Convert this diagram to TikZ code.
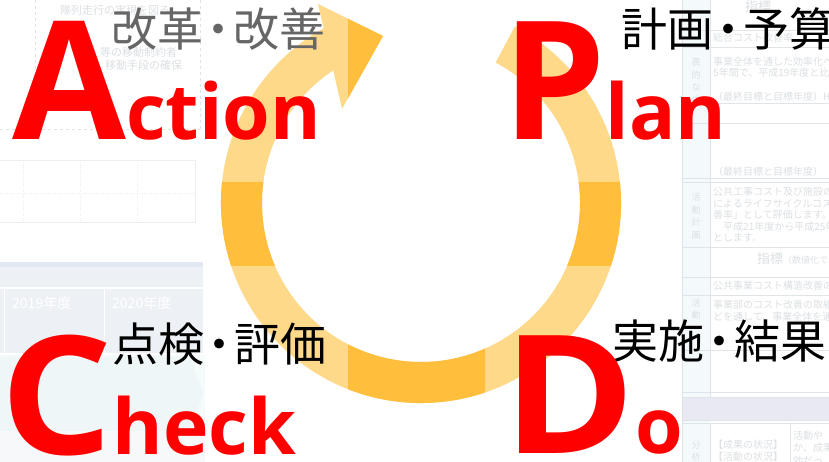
\documentclass[tikz,border=0pt]{standalone}
\usepackage{fontspec}
\usetikzlibrary{positioning}
\newfontfamily\jpfont{Noto Sans CJK JP}
\newfontfamily\pdcafont{Open Sans}
\definecolor{ringlight}{HTML}{FFD98A}
\definecolor{ringdark}{HTML}{FFBE3C}
\definecolor{pdcared}{HTML}{FF0000}
\definecolor{labelgray}{HTML}{666666}
\definecolor{bgline}{HTML}{DFE4E9}
\definecolor{bgtext}{HTML}{DCE0E3}
\definecolor{bgblue}{HTML}{EDF1F6}
\definecolor{bgband}{HTML}{E1E8F2}
\definecolor{bgcyan}{HTML}{EEF6F8}
\definecolor{bgcol}{HTML}{F4FAFC}
\definecolor{bglav}{HTML}{E9E9F4}
\newcommand{\ringpath}{(62:200) arc[start angle=62,end angle=-240.9,radius=200]
  -- (-103,199) -- (-38,167) -- (-79,94) -- (-236.5:159)
  arc[start angle=-236.5,end angle=62,radius=159] -- cycle}
\newcommand{\pdcabig}[1]{{\fontsize{165}{165}\selectfont #1}}
\newcommand{\pdcasmall}[1]{{\fontsize{77}{77}\selectfont #1}}
\newcommand{\jpdot}{\kern-8pt・\kern-8pt}

\begin{document}
\begin{tikzpicture}[x=1pt,y=1pt]
  \tikzstyle{jplabel}=[font=\jpfont\fontsize{46}{46}\selectfont,anchor=base west,inner sep=0pt]
  \tikzstyle{pdcaword}=[font=\pdcafont\bfseries,text=pdcared,anchor=base west,inner sep=0pt]
  \tikzstyle{bgnote}=[font=\jpfont\fontsize{10}{12.5}\selectfont,text=bgtext,anchor=west,inner sep=0pt]
  \tikzstyle{bgside}=[font=\jpfont\fontsize{9}{12.5}\selectfont,text=bgtext,align=center,inner sep=0pt]
  \useasboundingbox[fill=white] (0,0) rectangle (829,462);

  \draw[bgline,dashed,line width=1pt] (35,462) -- (35,332) (200,462) -- (200,332) (0,332) -- (200,332);
  \draw[bgline!60] (-1,302) rectangle (195,240);
  \draw[bgline!60,dotted] (23,302) -- (23,240) (80,302) -- (80,240) (137,302) -- (137,240) (0,269) -- (195,269);
  \fill[bgband] (0,200) rectangle (203,195);
  \fill[bgblue] (0,195) rectangle (203,175);
  \fill[bgblue] (0,173) rectangle (203,109);
  \draw[white,line width=1pt] (4,173) -- (4,109) (104,173) -- (104,109);
  \fill[bgcyan!60] (0,107) rectangle (205,29);
  \fill[bgcyan] (0,105) -- (190,105) -- (203,68) -- (190,31) -- (0,31) -- cycle;
  \fill[bgblue!50] (0,29) rectangle (205,0);
  \node[bgnote,text=white,font=\jpfont\fontsize{14}{14}\selectfont] (y2019) at (12,159) {2019年度};
  \node[bgnote,text=white,font=\jpfont\fontsize{14}{14}\selectfont] (y2020) at (112,159) {2020年度};
  \node[bgnote,font=\jpfont\fontsize{11}{11}\selectfont] (tailnote1) at (60,452) {隊列走行の実現を図る};
  \node[bgnote,font=\jpfont\fontsize{11}{11}\selectfont] (tailnote2) at (100,410) {等の移動制約者};
  \node[bgnote,font=\jpfont\fontsize{11}{11}\selectfont] (tailnote3) at (105,397) {移動手段の確保};

  \fill[bgcol] (682,462) rectangle (710,65) (682,42) rectangle (710,0);
  \fill[bglav] (682,65) rectangle (829,42);
  \draw[bgline] (682,462) -- (682,0) (710,462) -- (710,65) (710,39) -- (710,0) (790,39) -- (790,0);
  \foreach \ty in {432,415,359,339,284,280,215,185,167,112,70,65,42,39}
    \draw[bgline] (682,\ty) -- (829,\ty);
  \node[bgnote,font=\jpfont\fontsize{13}{13}\selectfont] (hdr1) at (745,455) {指標};
  \node[bgnote] (sheet1) at (713,424) {総合コスト改善率};
  \node[bgnote] (sheet2) at (713,400) {事業全体を通した効率化へ};
  \node[bgnote] (sheet3) at (713,389) {5年間で、平成19年度と比};
  \node[bgnote] (sheet4) at (713,365) {（最終目標と目標年度）H2};
  \node[bgnote] (sheet5) at (713,290) {（最終目標と目標年度）};
  \node[bgnote] (sheet6) at (713,270) {公共工事コスト及び施設の};
  \node[bgnote] (sheet7) at (713,258) {によるライフサイクルコスト};
  \node[bgnote] (sheet8) at (713,247) {善率」として評価します。};
  \node[bgnote] (sheet9) at (713,235) {　平成21年度から平成25年};
  \node[bgnote] (sheet10) at (713,224) {とします。};
  \node[bgnote,font=\jpfont\fontsize{13}{13}\selectfont] (hdr2) at (757,203) {指標\fontsize{9}{9}\selectfont（数値化で};
  \node[bgnote] (sheet11) at (713,176) {公共事業コスト構造改善の};
  \node[bgnote] (sheet12) at (713,157) {事業部のコスト改善の取組};
  \node[bgnote] (sheet13) at (713,145) {どを通して、事業全体を通};
  \node[bgnote] (sheet14) at (713,17) {【成果の状況】};
  \node[bgnote] (sheet15) at (713,5) {【活動の状況】};
  \node[bgnote,align=left] (sheet16) at (793,14) {活動や\\か、成果\\効だっ};
  \node[bgside] (side1) at (696,381) {表\\的\\な\\成};
  \node[bgside] (side2) at (696,246) {活\\動\\計\\画};
  \node[bgside] (side3) at (696,153) {活\\動};
  \node[bgside] (side4) at (696,11) {分\\析};

  \begin{scope}[shift={(421,259)}]
    \fill[ringlight] \ringpath;
    \begin{scope}
      \clip (-250,-63) rectangle (250,21) (-73,-250) rectangle (64,0) (-73,41) rectangle (0,250);
      \fill[ringdark] \ringpath;
    \end{scope}
  \end{scope}

  \node[jplabel,text=labelgray] (kaizen) at (111,415) {改革\jpdot 改善};
  \node[jplabel] (keikaku) at (621,415) {計画\jpdot 予算};
  \node[jplabel] (tenken) at (112,100) {点検\jpdot 評価};
  \node[jplabel] (jisshi) at (612,103) {実施\jpdot 結果};

  \node[pdcaword] (action) at (12,322) {\pdcabig{A}\pdcasmall{ction}};
  \node[pdcaword] (plan) at (502,322) {\pdcabig{P}\pdcasmall{lan}};
  \node[pdcaword] (check) at (0,7) {\pdcabig{\scalebox{1.07}[1]{C}}\pdcasmall{heck}};
  \node[pdcaword] (do) at (503,8) {\pdcabig{\scalebox{1.08}[1]{D}}\pdcasmall{o}};
\end{tikzpicture}
\end{document}
